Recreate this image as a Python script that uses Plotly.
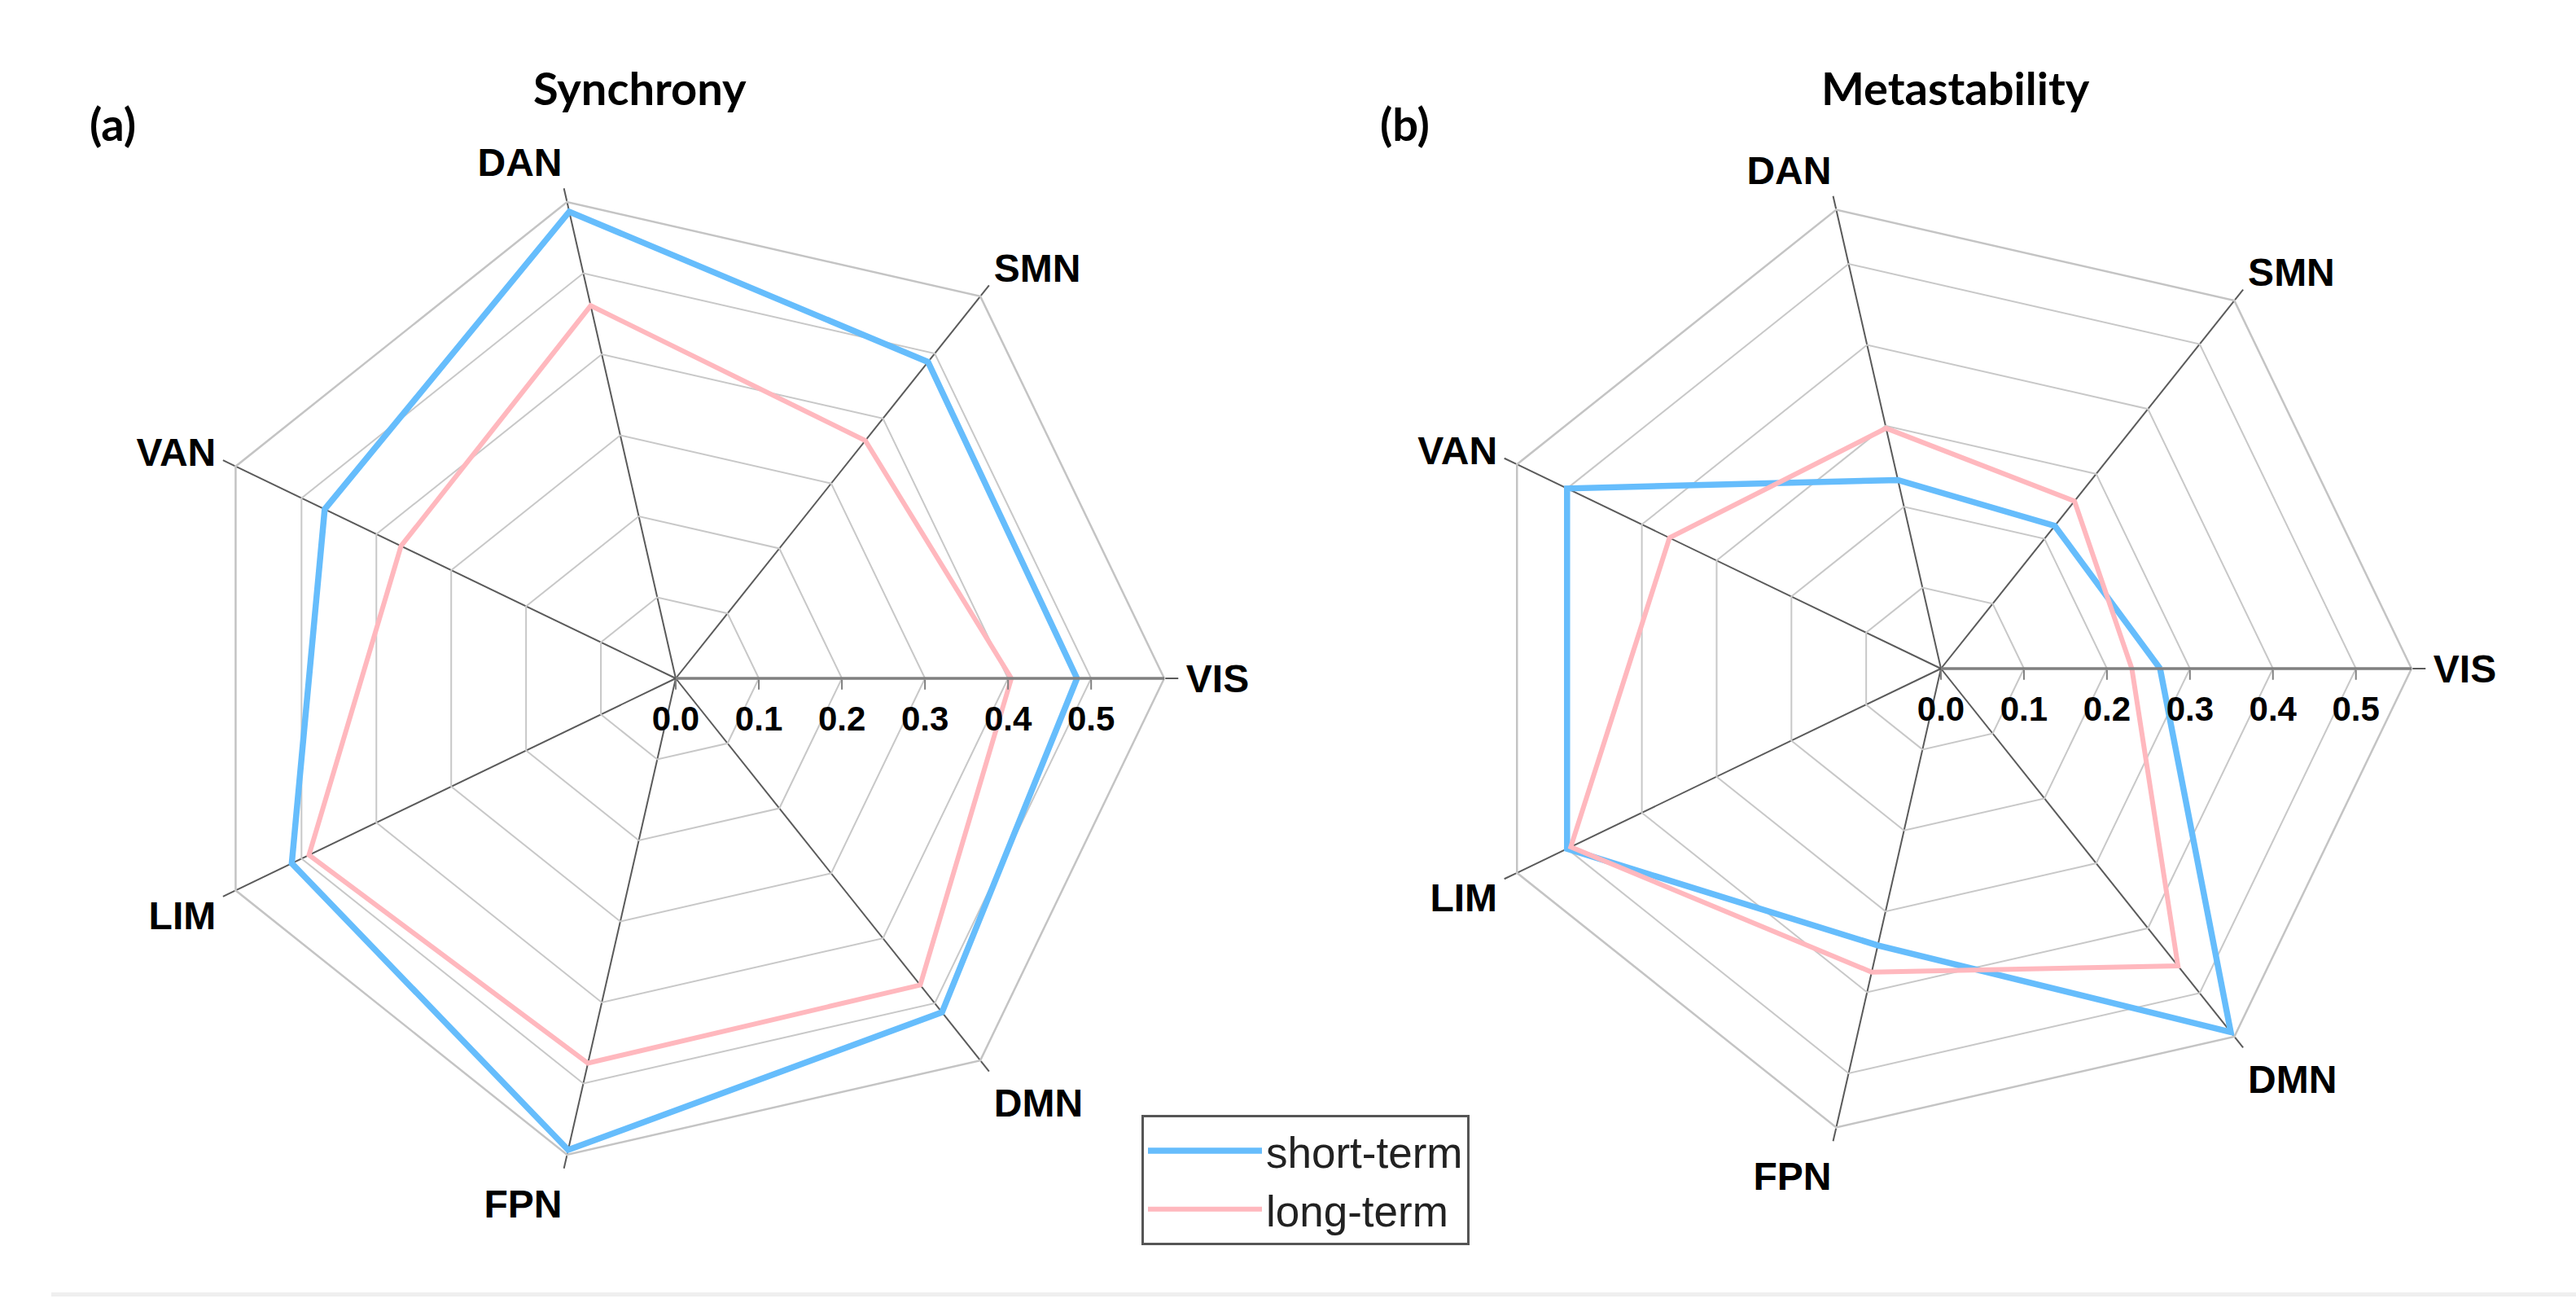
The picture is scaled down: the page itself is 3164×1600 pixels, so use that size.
import plotly.graph_objects as go

# ---- data ----
categories = ["VIS", "SMN", "DAN", "VAN", "LIM", "FPN", "DMN"]
sync_short = [0.483, 0.487, 0.576, 0.469, 0.513, 0.582, 0.514]
sync_long = [0.404, 0.366, 0.460, 0.367, 0.490, 0.475, 0.472]
meta_short = [0.264, 0.220, 0.233, 0.500, 0.500, 0.342, 0.560]
meta_long = [0.230, 0.258, 0.297, 0.363, 0.495, 0.375, 0.458]
radial_ticks = [0.0, 0.1, 0.2, 0.3, 0.4, 0.5]
series_names = ["short-term", "long-term"]
panel_titles = ["Synchrony", "Metastability"]
panel_letters = ["(a)", "(b)"]

BLUE = "#66BDFC"
PINK = "#FFB8BE"
W, H = 3164, 1600


def closed(vals):
    return list(vals) + [vals[0]]


fig = go.Figure()
for sub, (short, long_), show in [("polar", (sync_short, sync_long), True),
                                  ("polar2", (meta_short, meta_long), False)]:
    fig.add_trace(go.Scatterpolar(
        r=closed(short), theta=closed(categories), mode="lines",
        line=dict(color=BLUE, width=7.5), name=series_names[0],
        subplot=sub, showlegend=show))
    fig.add_trace(go.Scatterpolar(
        r=closed(long_), theta=closed(categories), mode="lines",
        line=dict(color=PINK, width=6), name=series_names[1],
        subplot=sub, showlegend=show))

label_font = dict(family="Liberation Sans, Arial", size=48, color="black", weight="bold")
tick_font = dict(family="Liberation Sans, Arial", size=42, color="black", weight="bold")


def polar_layout(cx, cy, R, rmax):
    return dict(
        domain=dict(x=[(cx - R) / W, (cx + R) / W],
                    y=[(H - cy - R) / H, (H - cy + R) / H]),
        gridshape="linear",
        bgcolor="white",
        angularaxis=dict(
            categoryorder="array", categoryarray=categories,
            rotation=0, direction="counterclockwise",
            showline=True, linecolor="#c4c4c4", linewidth=2.5,
            showgrid=True, gridcolor="#5a5a5a", gridwidth=1.6,
            ticks="outside", ticklen=16, tickcolor="#5a5a5a", tickwidth=1.6,
            tickfont=label_font,
        ),
        radialaxis=dict(
            range=[0, rmax], tickvals=radial_ticks, tickformat=".1f",
            angle=0, side="clockwise",
            showline=True, linecolor="#808080", linewidth=3.5,
            showgrid=True, gridcolor="#c8c8c8", gridwidth=2,
            ticks="outside", ticklen=12, tickcolor="#808080", tickwidth=2,
            tickfont=tick_font,
        ),
    )


fig.update_layout(
    width=W, height=H,
    margin=dict(l=0, r=0, t=0, b=0),
    paper_bgcolor="white", plot_bgcolor="white",
    polar=polar_layout(830, 833, 600, 0.588),
    polar2=polar_layout(2384, 821, 578, 0.567),
    legend=dict(
        x=1402 / W, y=1 - 1369 / H, xanchor="left", yanchor="top",
        bordercolor="#555555", borderwidth=3, bgcolor="white",
        font=dict(family="Liberation Sans, Arial", size=53, color="#222222"),
        itemwidth=140, tracegroupgap=0,
        entrywidth=290, entrywidthmode="pixels",
    ),
)

title_font = dict(family="Lato", size=56, color="black", weight="bold")
for txt, x in zip(panel_titles, [786, 2402]):
    fig.add_annotation(text=txt, x=x / W, y=1 - 107 / H, xref="paper", yref="paper",
                       showarrow=False, font=title_font, xanchor="center", yanchor="middle")
for txt, x in zip(panel_letters, [138, 1725]):
    fig.add_annotation(text=txt, x=x / W, y=1 - 152 / H, xref="paper", yref="paper",
                       showarrow=False, font=title_font, xanchor="center", yanchor="middle")

# faint rule along the bottom edge
fig.add_shape(type="rect", xref="paper", yref="paper",
              x0=63 / W, x1=1, y0=1 - 1592 / H, y1=1 - 1587 / H,
              fillcolor="#efefef", line=dict(width=0), layer="below")

fig.write_html("out.html", config={"displayModeBar": False},
               post_script="document.body.style.margin='0';document.body.style.overflow='hidden';")
